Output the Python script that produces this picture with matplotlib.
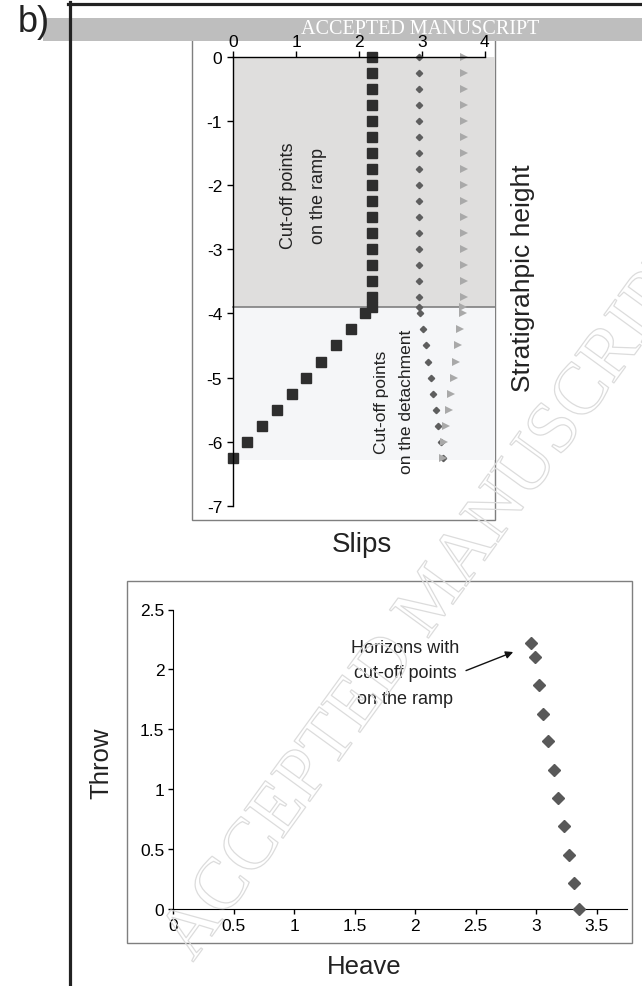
import matplotlib
matplotlib.use("Agg")
import matplotlib.pyplot as plt
from matplotlib.patches import Rectangle
from matplotlib.lines import Line2D
import matplotlib.patheffects as pe

plt.rcParams['font.family'] = ['Liberation Sans', 'DejaVu Sans']
plt.rcParams['axes.unicode_minus'] = False

# ---------------- data ----------------
# top chart: stratigraphic height of horizons
strat_height = [0, -0.25, -0.5, -0.75, -1.0, -1.25, -1.5, -1.75, -2.0, -2.25,
                -2.5, -2.75, -3.0, -3.25, -3.5, -3.75, -3.9, -4.0, -4.25, -4.5,
                -4.75, -5.0, -5.25, -5.5, -5.75, -6.0, -6.25]
throw_all = [2.21, 2.21, 2.21, 2.21, 2.21, 2.21, 2.21, 2.21, 2.21, 2.21,
             2.21, 2.21, 2.21, 2.21, 2.21, 2.21, 2.21, 2.10, 1.87, 1.63,
             1.40, 1.16, 0.93, 0.69, 0.45, 0.22, 0.0]
heave_all = [2.96, 2.96, 2.96, 2.96, 2.96, 2.96, 2.96, 2.96, 2.96, 2.96,
             2.96, 2.96, 2.96, 2.96, 2.96, 2.96, 2.96, 2.97, 3.02, 3.06,
             3.10, 3.14, 3.18, 3.22, 3.26, 3.30, 3.34]
slip_all = [3.67, 3.67, 3.67, 3.67, 3.67, 3.67, 3.67, 3.67, 3.67, 3.67,
            3.67, 3.67, 3.67, 3.67, 3.67, 3.67, 3.66, 3.66, 3.61, 3.58,
            3.54, 3.51, 3.47, 3.43, 3.39, 3.35, 3.34]
ramp_top = 0
ramp_base = -3.9
detach_base = -6.28
top_xticks = [0, 1, 2, 3, 4]
top_yticks = [0, -1, -2, -3, -4, -5, -6, -7]

# bottom chart: horizons with cut-off points on the ramp
heave_ramp = [2.96, 2.99, 3.02, 3.06, 3.10, 3.15, 3.18, 3.23, 3.27, 3.31, 3.35]
throw_ramp = [2.22, 2.10, 1.87, 1.63, 1.40, 1.16, 0.93, 0.69, 0.45, 0.22, 0.0]
bot_xticks = [0, 0.5, 1, 1.5, 2, 2.5, 3, 3.5]
bot_yticks = [0, 0.5, 1, 1.5, 2, 2.5]

W, H = 642, 987
fig = plt.figure(figsize=(W / 100, H / 100), dpi=100)


def fx(px):
    return px / W


def fy(py):
    return 1 - py / H


# outer frame lines
fig.add_artist(Line2D([fx(69.5), fx(69.5)], [fy(3), fy(990)], color='#222222', lw=2.3, zorder=5))
fig.add_artist(Line2D([fx(68.4), fx(645)], [fy(4.5), fy(4.5)], color='#222222', lw=2.3, zorder=5))

# chart boxes
fig.add_artist(Rectangle((fx(192), fy(521)), (495 - 192) / W, (521 - 20) / H,
                         fill=False, edgecolor='#7f7f7f', lw=1.0, zorder=-3))
fig.add_artist(Rectangle((fx(127), fy(944)), (632 - 127) / W, (944 - 582) / H,
                         fill=False, edgecolor='#7f7f7f', lw=1.0, zorder=-3))

# banner
fig.add_artist(Rectangle((fx(43), fy(42)), (650 - 43) / W, 23 / H,
                         facecolor='#bebebe', edgecolor='none', zorder=-2))
fig.text(fx(420), fy(29.5), 'ACCEPTED MANUSCRIPT', color='white', fontsize=14.5,
         family=['Liberation Serif', 'DejaVu Serif'], ha='center', va='center', zorder=-1)

fig.text(fx(34), fy(22), 'b)', fontsize=26, ha='center', va='center', color='#222222')

# ---------------- top chart ----------------
ax1 = fig.add_axes([fx(233.3), fy(507), (484.7 - 233.3) / W, (507 - 57.5) / H])
ax1.patch.set_visible(False)
ax1.set_xlim(0, 4)
ax1.set_ylim(-7, 0)

ax1.add_patch(Rectangle((0, ramp_base), 4.165, ramp_top - ramp_base, facecolor='#dfdedd',
                        edgecolor='none', clip_on=False, zorder=0))
ax1.add_patch(Rectangle((0, detach_base), 4.165, ramp_base - detach_base, facecolor='#f5f6f8',
                        edgecolor='none', clip_on=False, zorder=0))
ax1.plot([0, 4.165], [ramp_base, ramp_base], color='#808080', lw=1.2, clip_on=False, zorder=1)

ax1.plot(throw_all, strat_height, linestyle='none', marker='s', markersize=6.5,
         color='#2e2e2e', clip_on=False, zorder=3)
ax1.plot(heave_all, strat_height, linestyle='none', marker='D', markersize=3.2,
         color='#5e5e5e', clip_on=False, zorder=3)
ax1.plot(slip_all, strat_height, linestyle='none', marker='>', markersize=5.5,
         color='#a9a9a9', markeredgewidth=0, clip_on=False, zorder=3)

ax1.xaxis.tick_top()
ax1.set_xticks(top_xticks)
ax1.set_xticklabels([str(v) for v in top_xticks])
ax1.set_yticks(top_yticks)
ax1.set_yticklabels([str(v) for v in top_yticks])
ax1.tick_params(axis='both', direction='out', length=4, width=1, labelsize=12.5, color='black')
ax1.tick_params(axis='x', pad=1.5)
ax1.tick_params(axis='y', pad=4)
for s in ['bottom', 'right']:
    ax1.spines[s].set_visible(False)
for s in ['top', 'left']:
    ax1.spines[s].set_linewidth(1.0)
    ax1.spines[s].set_zorder(4)

fig.text(fx(303.5), fy(196), 'Cut-off points\non the ramp', rotation=90, fontsize=13,
         ha='center', va='center', multialignment='center', linespacing=1.95, color='#222222')
fig.text(fx(394), fy(402), 'Cut-off points\non the detachment', rotation=90, fontsize=12.5,
         ha='center', va='center', multialignment='center', linespacing=1.85, color='#222222')
fig.text(fx(523), fy(278), 'Stratigrahpic height', rotation=90, fontsize=19,
         ha='center', va='center', color='#222222')
fig.text(fx(362), fy(545), 'Slips', fontsize=20, ha='center', va='center', color='#222222')

# ---------------- bottom chart ----------------
ax2 = fig.add_axes([fx(173.3), fy(910), (626.9 - 173.3) / W, (910 - 610.5) / H])
ax2.patch.set_visible(False)
ax2.set_xlim(0, 3.75)
ax2.set_ylim(0, 2.5)
ax2.plot(heave_ramp, throw_ramp, linestyle='none', marker='D', markersize=6.2,
         color='#595959', clip_on=False, zorder=3)
ax2.set_xticks(bot_xticks)
ax2.set_xticklabels(['0', '0.5', '1', '1.5', '2', '2.5', '3', '3.5'])
ax2.set_yticks(bot_yticks)
ax2.set_yticklabels(['0', '0.5', '1', '1.5', '2', '2.5'])
ax2.tick_params(axis='both', direction='out', length=3.5, width=1, labelsize=12.5, color='black')
ax2.tick_params(axis='x', pad=3)
ax2.tick_params(axis='y', pad=3)
for s in ['top', 'right']:
    ax2.spines[s].set_visible(False)

ax2.text(1.916, 1.97, 'Horizons with\ncut-off points\non the ramp', fontsize=13,
         ha='center', va='center', multialignment='center', linespacing=1.62, color='#222222')
ax2.annotate('', xy=(2.81, 2.145), xytext=(2.42, 1.99),
             arrowprops=dict(arrowstyle='-|>', color='#111111', lw=1.0, mutation_scale=11,
                             shrinkA=0, shrinkB=0))

fig.text(fx(364), fy(967), 'Heave', fontsize=18.5, ha='center', va='center', color='#222222')
fig.text(fx(101), fy(763), 'Throw', fontsize=18.5, rotation=90, ha='center', va='center',
         color='#222222')

# watermark
fig.text(fx(435), fy(600), 'ACCEPTED MANUSCRIPT', fontsize=53, rotation=54,
         family=['Liberation Serif', 'DejaVu Serif'], ha='center', va='center',
         rotation_mode='anchor', color='none', zorder=10,
         path_effects=[pe.Stroke(linewidth=0.9, foreground='#dcdcdc')])

fig.savefig('out.png', dpi=100)
